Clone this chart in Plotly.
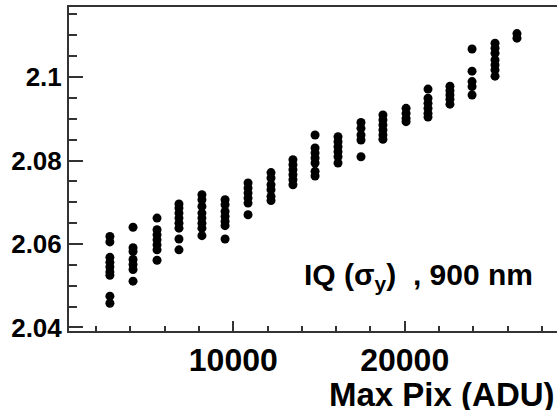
import plotly.graph_objects as go

# Column x positions (Max Pix, ADU)
col_x = [2800, 4150, 5550, 6830, 8170, 9520, 10860, 12200, 13480,
         14770, 16110, 17450, 18730, 20080, 21360, 22640, 23930, 25270, 26550]

# IQ (sigma_y) values in each column
col_y = [
    [2.0618, 2.0605, 2.0568, 2.0556, 2.0545, 2.0533, 2.0525, 2.0475, 2.0458],
    [2.0640, 2.0591, 2.0582, 2.0563, 2.0551, 2.0539, 2.0511],
    [2.0662, 2.0634, 2.0622, 2.0610, 2.0598, 2.0586, 2.0561],
    [2.0696, 2.0686, 2.0674, 2.0662, 2.0650, 2.0638, 2.0612, 2.0586],
    [2.0718, 2.0706, 2.0690, 2.0674, 2.0662, 2.0650, 2.0638, 2.0620],
    [2.0706, 2.0694, 2.0678, 2.0666, 2.0654, 2.0644, 2.0612],
    [2.0746, 2.0734, 2.0722, 2.0710, 2.0698, 2.0670],
    [2.0771, 2.0758, 2.0742, 2.0730, 2.0714, 2.0704],
    [2.0802, 2.0790, 2.0778, 2.0766, 2.0754, 2.0742],
    [2.0861, 2.0830, 2.0818, 2.0806, 2.0794, 2.0774, 2.0763],
    [2.0857, 2.0845, 2.0833, 2.0821, 2.0809, 2.0794],
    [2.0891, 2.0877, 2.0861, 2.0849, 2.0809],
    [2.0909, 2.0897, 2.0885, 2.0873, 2.0861, 2.0851],
    [2.0925, 2.0913, 2.0901, 2.0893],
    [2.0971, 2.0949, 2.0937, 2.0925, 2.0913, 2.0904],
    [2.0978, 2.0967, 2.0957, 2.0947, 2.0935],
    [2.1067, 2.1014, 2.0989, 2.0977, 2.0957],
    [2.1081, 2.1069, 2.1057, 2.1041, 2.1029, 2.1017, 2.1002],
    [2.1104, 2.1093],
]

x_tickvals = [10000, 20000]
x_ticktext = ["10000", "20000"]
y_tickvals = [2.04, 2.06, 2.08, 2.10]
y_ticktext = ["2.04", "2.06", "2.08", "2.1"]

xs, ys = [], []
for cx, cys in zip(col_x, col_y):
    for v in cys:
        xs.append(cx)
        ys.append(v)

FONT = "Liberation Sans, Arial, Helvetica, sans-serif"
AX = "#333333"

fig = go.Figure()
fig.add_trace(go.Scatter(
    x=xs, y=ys, mode="markers",
    marker=dict(color="black", size=9, line=dict(width=0)),
    showlegend=False,
))

fig.update_layout(
    width=557, height=410,
    margin=dict(l=69, r=0, t=7, b=79, pad=0, autoexpand=False),
    paper_bgcolor="white", plot_bgcolor="white",
    font=dict(family=FONT, color="black"),
)

fig.update_xaxes(
    range=[414, 28886], automargin=False,
    showgrid=False, zeroline=False,
    showline=True, linecolor=AX, linewidth=2, mirror=True,
    ticks="inside", ticklen=10, tickwidth=1.5, tickcolor=AX,
    tickvals=x_tickvals, ticktext=x_ticktext,
    tickfont=dict(family=FONT, size=32, weight="bold", color="black"),
    minor=dict(ticks="inside", ticklen=5, dtick=2000, tick0=0,
               tickcolor=AX, tickwidth=1.5, showgrid=False),
)

fig.update_yaxes(
    range=[2.03916, 2.11677], automargin=False,
    showgrid=False, zeroline=False,
    showline=True, linecolor=AX, linewidth=2, mirror=False,
    ticks="inside", ticklen=14, tickwidth=1.5, tickcolor=AX,
    tickvals=y_tickvals, ticktext=y_ticktext,
    tickfont=dict(family=FONT, size=26, weight="bold", color="black"),
    minor=dict(ticks="inside", ticklen=8, dtick=0.005, tick0=2.04,
               tickcolor=AX, tickwidth=1.5, showgrid=False),
)

PW = 557 - 69  # plot area width in px
fig.add_annotation(
    text="IQ (σ<sub>y</sub>)\u00a0\u00a0, 900 nm",
    xref="paper", yref="paper", x=(302 - 69) / PW, y=0.168,
    xanchor="left", yanchor="middle", showarrow=False,
    font=dict(family=FONT, size=30, weight="bold", color="black"),
)

fig.add_annotation(
    text="Max Pix (ADU)",
    xref="paper", yref="paper", x=1.0, y=-0.196,
    xanchor="right", yanchor="middle", showarrow=False,
    font=dict(family=FONT, size=33, weight="bold", color="black"),
)

fig.write_html(
    "out.html",
    config={"displayModeBar": False},
    post_script="document.body.style.margin='0';"
                "document.documentElement.style.overflow='hidden';"
                "document.body.style.overflow='hidden';"
                "document.body.style.background='white';",
)
